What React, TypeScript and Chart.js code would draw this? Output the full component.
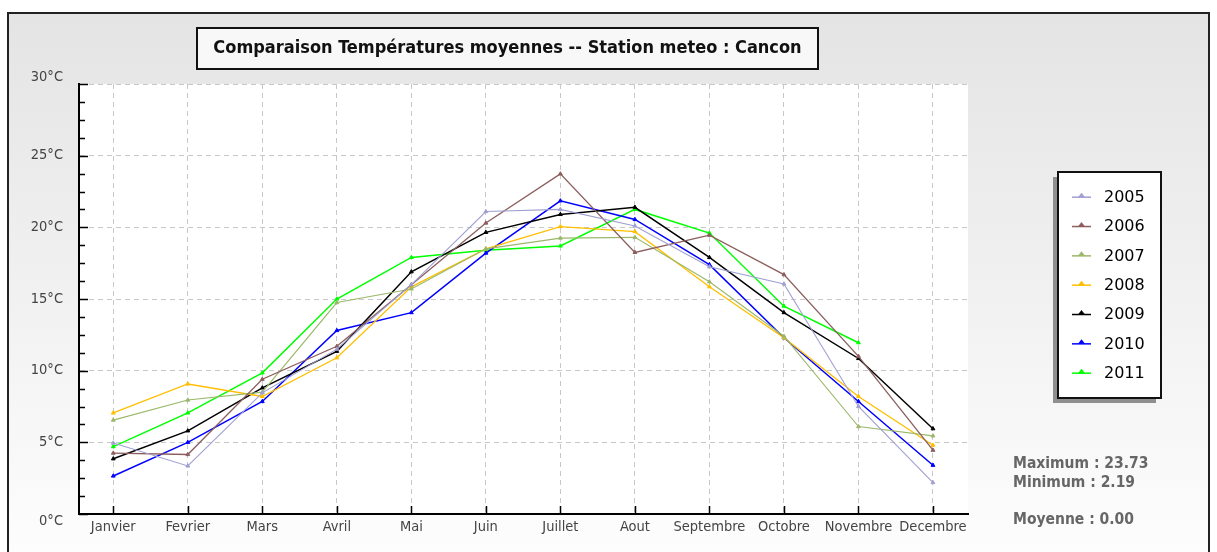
import React, { useEffect, useRef } from "react";
import { Chart, registerables } from "chart.js";

Chart.register(...registerables);

const TITLE = "Comparaison Températures moyennes -- Station meteo : Cancon";
const MONTHS = ["Janvier", "Fevrier", "Mars", "Avril", "Mai", "Juin", "Juillet", "Aout", "Septembre", "Octobre", "Novembre", "Decembre"];
const YEARS = ["2005", "2006", "2007", "2008", "2009", "2010", "2011"];

const T2005 = [4.95, 3.35, 8.45, 11.5, 16.0, 21.1, 21.25, 20.1, 17.25, 16.05, 7.5, 2.19];
const T2006 = [4.25, 4.15, 9.4, 11.7, 16.0, 20.3, 23.73, 18.25, 19.45, 16.7, 11.0, 4.45];
const T2007 = [6.55, 7.95, 8.5, 14.75, 15.7, 18.5, 19.25, 19.3, 16.2, 12.4, 6.1, 5.45];
const T2008 = [7.05, 9.07, 8.2, 10.9, 15.85, 18.5, 20.05, 19.7, 15.85, 12.3, 8.2, 4.8];
const T2009 = [3.85, 5.8, 8.8, 11.35, 16.9, 19.65, 20.9, 21.4, 17.9, 14.05, 10.85, 5.95];
const T2010 = [2.65, 5.0, 7.85, 12.8, 14.05, 18.2, 21.85, 20.55, 17.4, 12.3, 7.85, 3.4];
const T2011 = [4.7, 7.05, 9.85, 15.0, 17.9, 18.4, 18.7, 21.25, 19.6, 14.5, 11.95, null];

const SERIES = [T2005, T2006, T2007, T2008, T2009, T2010, T2011];
const COLORS = ["#a0a0d2", "#8c5e5e", "#9bb86a", "#ffbf00", "#000000", "#0000ff", "#00ff00"];
const WIDTHS = [1.1, 1.3, 1.1, 1.3, 1.5, 1.5, 1.5];

const Y_MIN = 0;
const Y_MAX = 30;
const Y_STEP = 5;
const Y_MINOR_STEP = 1.25;
const AVERAGE_TEXT = "Moyenne : 0.00";

const W = 1217;
const H = 552;
const FONT = "'DejaVu Sans Condensed', 'DejaVu Sans', sans-serif";

const decorPlugin = {
  id: "decor",
  beforeDraw(chart: any) {
    const { ctx, chartArea } = chart;
    ctx.save();
    ctx.fillStyle = "#ffffff";
    ctx.fillRect(0, 0, W, H);
    const g = ctx.createLinearGradient(0, 13, 0, H);
    g.addColorStop(0, "#e4e4e4");
    g.addColorStop(1, "#fdfdfd");
    ctx.fillStyle = g;
    ctx.fillRect(8, 13, 1201, H);
    ctx.fillStyle = "#ffffff";
    ctx.fillRect(chartArea.left, chartArea.top, chartArea.right - chartArea.left, chartArea.bottom - chartArea.top);
    // frame
    ctx.strokeStyle = "#222";
    ctx.lineWidth = 2;
    ctx.beginPath();
    ctx.moveTo(8, H + 5);
    ctx.lineTo(8, 13);
    ctx.lineTo(1209, 13);
    ctx.lineTo(1209, H + 5);
    ctx.stroke();
    // title box
    ctx.fillStyle = "#f8f8f8";
    ctx.fillRect(197, 28, 621, 41);
    ctx.strokeStyle = "#111";
    ctx.lineWidth = 2;
    ctx.strokeRect(197, 28, 621, 41);
    ctx.fillStyle = "#111";
    ctx.font = "bold 18px " + FONT;
    ctx.textAlign = "center";
    ctx.textBaseline = "middle";
    ctx.fillText(TITLE, 507.5, 48.5);
    ctx.restore();
  },
  afterDraw(chart: any) {
    const { ctx, chartArea, scales } = chart;
    const ys = scales.y;
    const xs = scales.x;
    ctx.save();
    ctx.strokeStyle = "#000";
    ctx.lineWidth = 1.5;
    ctx.beginPath();
    for (let v = Y_MIN; v <= Y_MAX + 0.001; v += Y_MINOR_STEP) {
      const py = Math.round(ys.getPixelForValue(v)) + 0.5;
      const len = Math.abs(v % Y_STEP) < 0.001 ? 9 : 6;
      ctx.moveTo(chartArea.left, py);
      ctx.lineTo(chartArea.left + len, py);
    }
    MONTHS.forEach((_, i) => {
      const px = Math.round(xs.getPixelForValue(i)) + 0.5;
      ctx.moveTo(px, chartArea.bottom);
      ctx.lineTo(px, chartArea.bottom - 8);
    });
    ctx.stroke();

    // legend box
    const lx = 1058, ly = 172, lw = 103, lh = 226;
    ctx.fillStyle = "#8f8f8f";
    ctx.fillRect(lx - 5, ly + 5, lw, lh);
    ctx.fillStyle = "#fff";
    ctx.fillRect(lx, ly, lw, lh);
    ctx.strokeStyle = "#111";
    ctx.lineWidth = 2;
    ctx.strokeRect(lx, ly, lw, lh);
    chart.data.datasets.forEach((ds: any, i: number) => {
      const cy = 196.7 + i * 29.33;
      ctx.strokeStyle = ds.borderColor;
      ctx.fillStyle = ds.borderColor;
      ctx.lineWidth = 1.5;
      ctx.beginPath();
      ctx.moveTo(1072, cy + 0.5);
      ctx.lineTo(1091, cy + 0.5);
      ctx.stroke();
      ctx.beginPath();
      ctx.moveTo(1078, cy + 0.5);
      ctx.lineTo(1081.5, cy - 4);
      ctx.lineTo(1085, cy + 0.5);
      ctx.closePath();
      ctx.fill();
      ctx.fillStyle = "#000";
      ctx.font = "16px 'DejaVu Sans', sans-serif";
      ctx.textAlign = "left";
      ctx.textBaseline = "middle";
      ctx.fillText(ds.label, 1104, cy + 1);
    });

    // stats
    const all: number[] = [];
    SERIES.forEach((s) => s.forEach((v) => { if (v !== null) all.push(v as number); }));
    const mx = Math.max(...all);
    const mn = Math.min(...all);
    ctx.fillStyle = "#666";
    ctx.font = "bold 15.5px " + FONT;
    ctx.textAlign = "left";
    ctx.textBaseline = "middle";
    ctx.fillText("Maximum : " + mx.toFixed(2), 1013, 464);
    ctx.fillText("Minimum : " + mn.toFixed(2), 1013, 483);
    ctx.fillText(AVERAGE_TEXT, 1013, 520);
    ctx.restore();
  },
};

export default function App() {
  const ref = useRef<HTMLCanvasElement | null>(null);
  useEffect(() => {
    if (!ref.current) return;
    const chart = new Chart(ref.current, {
      type: "line",
      data: {
        labels: MONTHS,
        datasets: YEARS.map((y, i) => ({
          label: y,
          data: SERIES[i],
          borderColor: COLORS[i],
          backgroundColor: COLORS[i],
          borderWidth: WIDTHS[i],
          pointStyle: "triangle",
          pointRadius: 2.2,
          pointBorderWidth: 1,
          tension: 0,
          spanGaps: false,
        })),
      },
      options: {
        responsive: false,
        animation: false,
        devicePixelRatio: 1,
        layout: { padding: { left: 0, top: 84, right: W - 968, bottom: 0 } },
        plugins: { legend: { display: false }, title: { display: false }, tooltip: { enabled: false } },
        scales: {
          x: {
            type: "category",
            offset: true,
            grid: { color: "#c8c8c8", lineWidth: 1, drawTicks: false },
            border: { display: true, color: "#000", width: 2, dash: [5, 4] },
            ticks: { color: "#444", font: { family: FONT, size: 14.5 }, padding: 5, autoSkip: false, maxRotation: 0 },
            afterFit: (s: any) => { s.height = H - 514; },
            afterBuildTicks: (s: any) => { s._startValue = -0.46; s._valueRange = 11.93; },
          },
          y: {
            min: Y_MIN,
            max: Y_MAX,
            ticks: {
              stepSize: Y_STEP,
              color: "#444",
              font: { family: FONT, size: 14.5, lineHeight: 1.0 },
              padding: 16,
              callback: (v: any) => {
                const t = v + "°C";
                if (v === Y_MAX) return [t, ""];
                if (v === Y_MIN) return ["", t];
                return t;
              },
            },
            grid: { color: "#c8c8c8", lineWidth: 1, drawTicks: false },
            border: { display: true, color: "#000", width: 2, dash: [5, 4] },
            afterFit: (s: any) => { s.width = 79; },
          },
        },
      },
      plugins: [decorPlugin],
    } as any);
    return () => chart.destroy();
  }, []);
  return (
    <div style={{ position: "fixed", left: 0, top: 0, width: W, height: H }}>
      <canvas ref={ref} width={W} height={H} style={{ width: W, height: H, display: "block" }} />
    </div>
  );
}
